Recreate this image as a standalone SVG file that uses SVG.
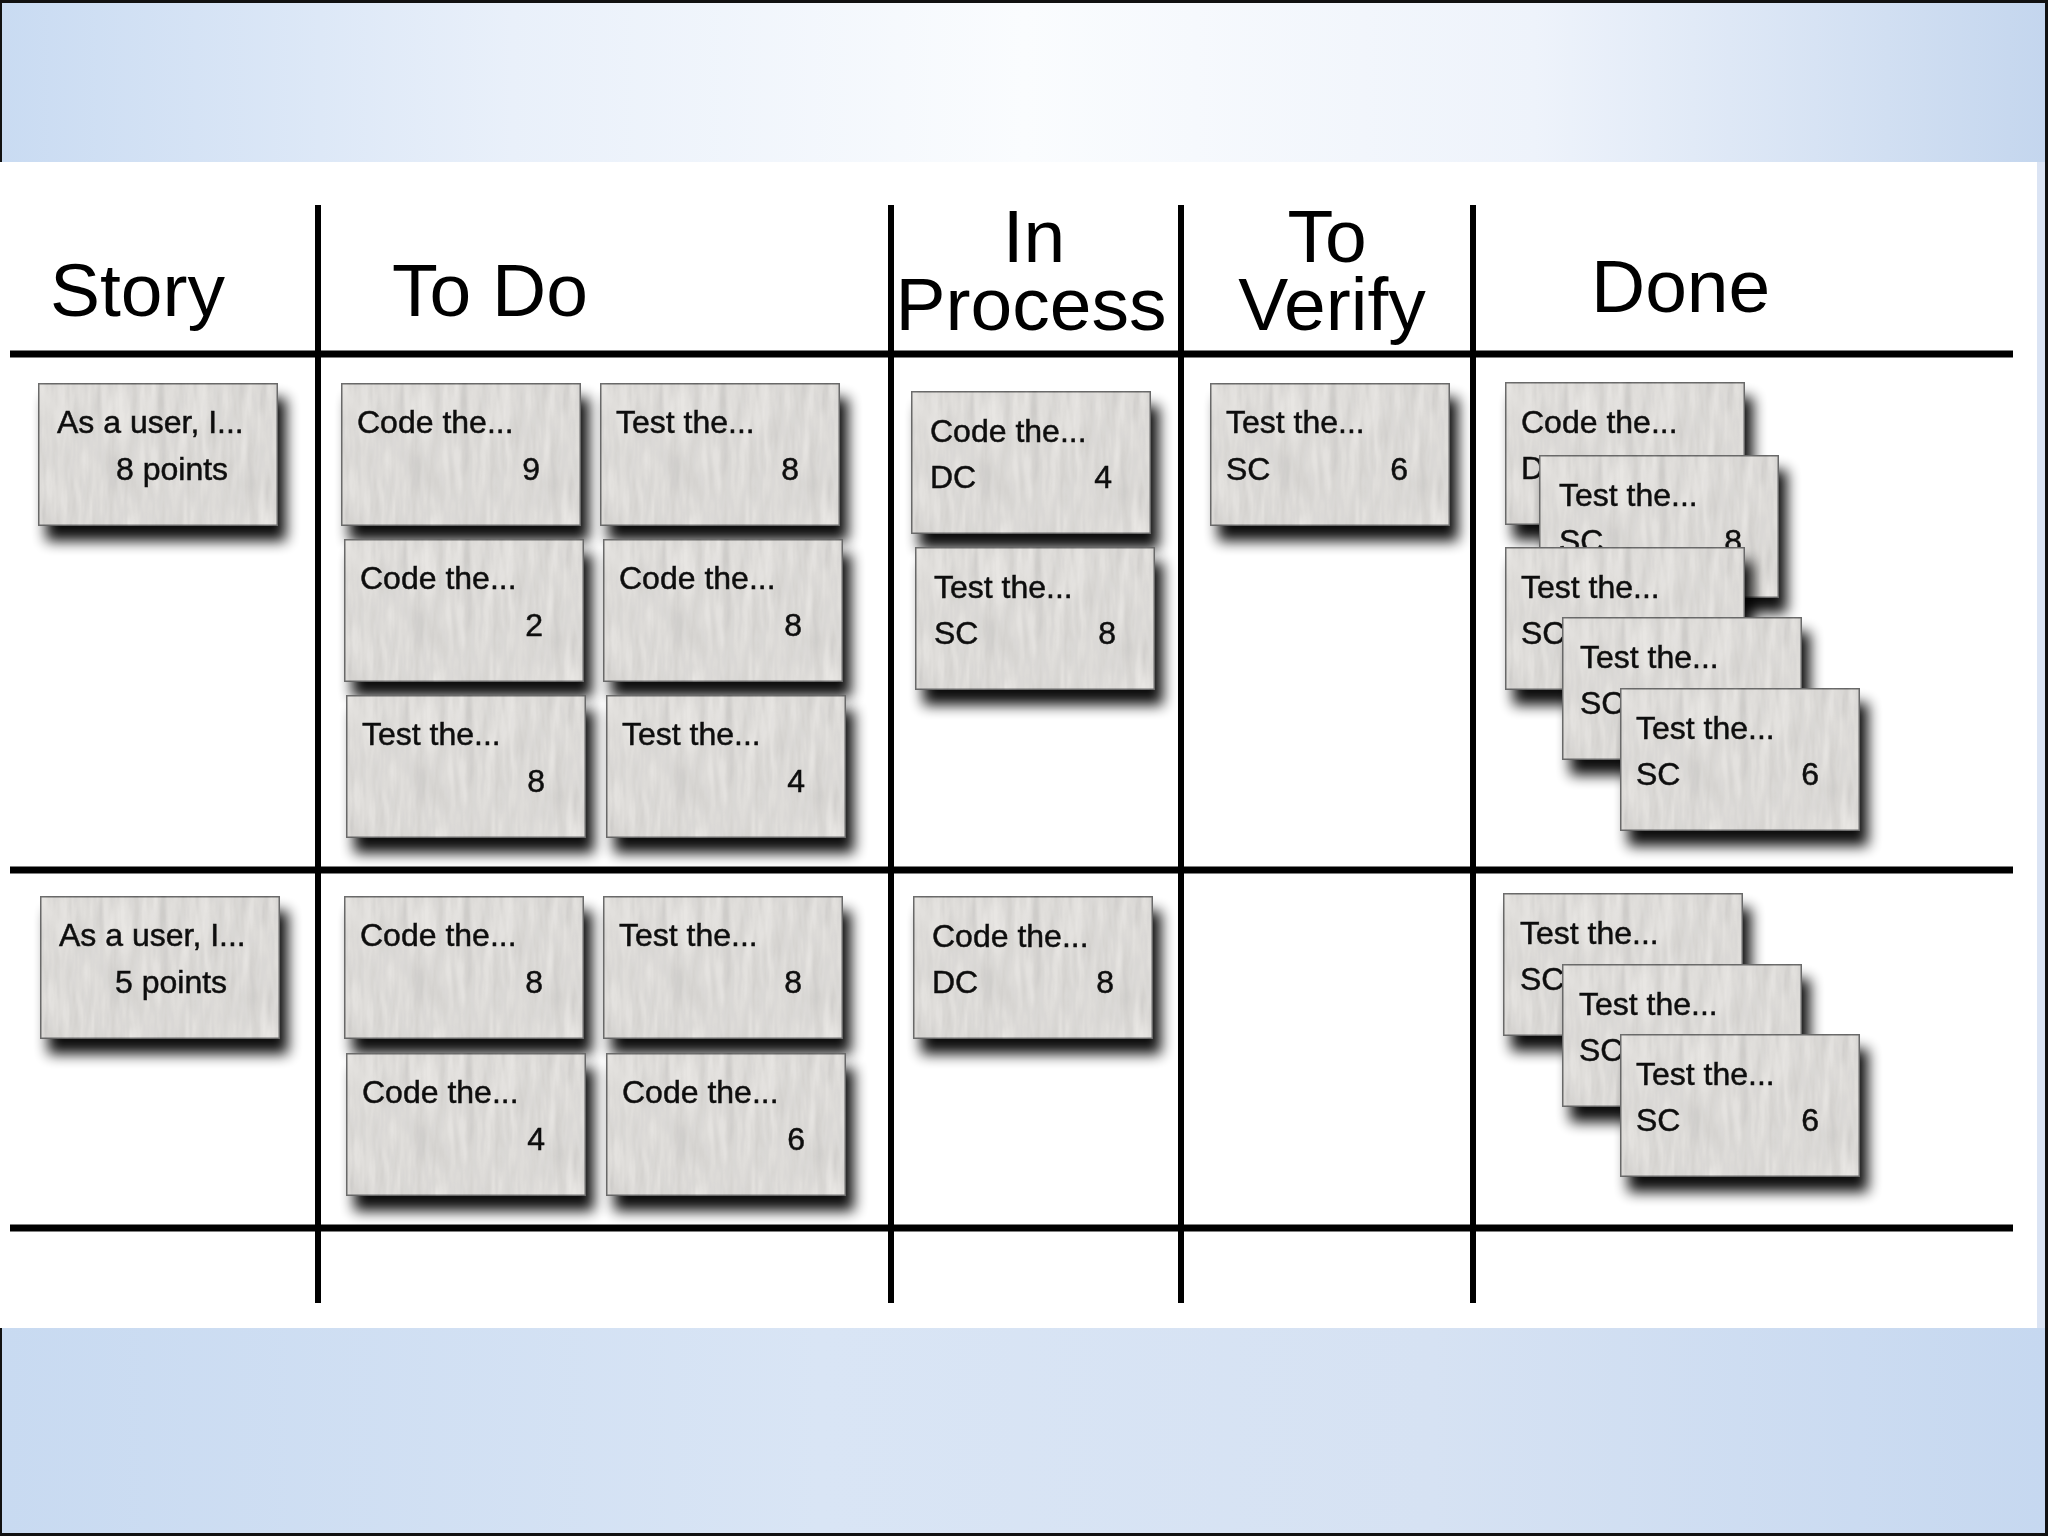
<svg xmlns="http://www.w3.org/2000/svg" width="2048" height="1536" viewBox="0 0 2048 1536">
<style>
.hd{font-family:"Liberation Sans",Arial,sans-serif;font-size:75px;fill:#000}
.ct{font-family:"Liberation Sans",Arial,sans-serif;font-size:32px;fill:#111;stroke:#111;stroke-width:0.5}
.num{text-anchor:end}
.paper{fill:#e8e6e3;stroke:#6f6f6f;stroke-width:3}
.grid line{stroke:#000}
.h{stroke-width:7}
.v{stroke-width:6}
</style>
<defs>
<linearGradient id="gTop" x1="0" y1="0" x2="1" y2="0">
<stop offset="0" stop-color="#c9dbf2"/>
<stop offset="0.25" stop-color="#e9f0fa"/>
<stop offset="0.5" stop-color="#fafcfe"/>
<stop offset="0.75" stop-color="#eef3fb"/>
<stop offset="1" stop-color="#c4d6ee"/>
</linearGradient>
<linearGradient id="gBot" x1="0" y1="0" x2="1" y2="0">
<stop offset="0" stop-color="#c8daf1"/>
<stop offset="0.4" stop-color="#d9e5f5"/>
<stop offset="0.7" stop-color="#d6e2f3"/>
<stop offset="1" stop-color="#c6d8f0"/>
</linearGradient>
<filter id="sh" x="-10%" y="-10%" width="135%" height="155%">
<feGaussianBlur in="SourceAlpha" stdDeviation="7"/>
<feOffset dx="8" dy="15"/>
<feComponentTransfer><feFuncA type="linear" slope="0.95"/></feComponentTransfer>
<feMerge><feMergeNode/><feMergeNode in="SourceGraphic"/></feMerge>
</filter>
<filter id="paper" x="0" y="0" width="100%" height="100%" color-interpolation-filters="sRGB">
<feTurbulence type="fractalNoise" baseFrequency="0.1 0.016" numOctaves="3" seed="7"/>
<feColorMatrix type="matrix" values="0.33 0.33 0.33 0 0 0.33 0.33 0.33 0 0 0.33 0.33 0.33 0 0 0 0 0 0 1"/>
<feComponentTransfer>
<feFuncR type="linear" slope="0.3" intercept="0.8"/>
<feFuncG type="linear" slope="0.3" intercept="0.8"/>
<feFuncB type="linear" slope="0.3" intercept="0.8"/>
</feComponentTransfer>
<feBlend in2="SourceGraphic" mode="multiply" result="m"/>
<feComposite in="m" in2="SourceGraphic" operator="in"/>
</filter>
</defs>

<g id="background">
<rect x="0" y="0" width="2048" height="1536" fill="#111"/>
<rect x="2" y="3" width="2043" height="159" fill="url(#gTop)"/>
<rect x="2" y="1328" width="2043" height="205" fill="url(#gBot)"/>
<rect x="2037" y="162" width="8" height="1166" fill="#dbe4f4"/>
<rect x="0" y="162" width="2037" height="1166" fill="#ffffff"/>
</g>

<g id="connectors" class="grid">
<line class="h" x1="10" y1="354" x2="2013" y2="354"/>
<line class="h" x1="10" y1="870" x2="2013" y2="870"/>
<line class="h" x1="10" y1="1228" x2="2013" y2="1228"/>
<line class="v" x1="318" y1="205" x2="318" y2="1303"/>
<line class="v" x1="891" y1="205" x2="891" y2="1303"/>
<line class="v" x1="1181" y1="205" x2="1181" y2="1303"/>
<line class="v" x1="1473" y1="205" x2="1473" y2="1303"/>
</g>

<g id="headers">
<text class="hd" x="50" y="316">Story</text>
<text class="hd" x="392" y="316">To Do</text>
<text class="hd" x="1034" y="262" text-anchor="middle">In</text>
<text class="hd" x="1031" y="330" text-anchor="middle">Process</text>
<text class="hd" x="1327" y="262" text-anchor="middle">To</text>
<text class="hd" x="1332" y="330" text-anchor="middle">Verify</text>
<text class="hd" x="1591" y="312">Done</text>
</g>

<g id="story-1" transform="translate(38,383)" filter="url(#sh)"><rect class="paper" width="240" height="143" filter="url(#paper)"/><text class="ct" x="19" y="50">As a user, I...</text><text class="ct" x="78" y="97">8 points</text></g>
<g id="story-2" transform="translate(40,896)" filter="url(#sh)"><rect class="paper" width="240" height="143" filter="url(#paper)"/><text class="ct" x="19" y="50">As a user, I...</text><text class="ct" x="75" y="97">5 points</text></g>

<g id="todo-1" transform="translate(341,383)" filter="url(#sh)"><rect class="paper" width="240" height="143" filter="url(#paper)"/><text class="ct" x="16" y="50">Code the...</text><text class="ct num" x="199" y="97">9</text></g>
<g id="todo-2" transform="translate(600,383)" filter="url(#sh)"><rect class="paper" width="240" height="143" filter="url(#paper)"/><text class="ct" x="16" y="50">Test the...</text><text class="ct num" x="199" y="97">8</text></g>
<g id="todo-3" transform="translate(344,539)" filter="url(#sh)"><rect class="paper" width="240" height="143" filter="url(#paper)"/><text class="ct" x="16" y="50">Code the...</text><text class="ct num" x="199" y="97">2</text></g>
<g id="todo-4" transform="translate(603,539)" filter="url(#sh)"><rect class="paper" width="240" height="143" filter="url(#paper)"/><text class="ct" x="16" y="50">Code the...</text><text class="ct num" x="199" y="97">8</text></g>
<g id="todo-5" transform="translate(346,695)" filter="url(#sh)"><rect class="paper" width="240" height="143" filter="url(#paper)"/><text class="ct" x="16" y="50">Test the...</text><text class="ct num" x="199" y="97">8</text></g>
<g id="todo-6" transform="translate(606,695)" filter="url(#sh)"><rect class="paper" width="240" height="143" filter="url(#paper)"/><text class="ct" x="16" y="50">Test the...</text><text class="ct num" x="199" y="97">4</text></g>
<g id="todo-7" transform="translate(344,896)" filter="url(#sh)"><rect class="paper" width="240" height="143" filter="url(#paper)"/><text class="ct" x="16" y="50">Code the...</text><text class="ct num" x="199" y="97">8</text></g>
<g id="todo-8" transform="translate(603,896)" filter="url(#sh)"><rect class="paper" width="240" height="143" filter="url(#paper)"/><text class="ct" x="16" y="50">Test the...</text><text class="ct num" x="199" y="97">8</text></g>
<g id="todo-9" transform="translate(346,1053)" filter="url(#sh)"><rect class="paper" width="240" height="143" filter="url(#paper)"/><text class="ct" x="16" y="50">Code the...</text><text class="ct num" x="199" y="97">4</text></g>
<g id="todo-10" transform="translate(606,1053)" filter="url(#sh)"><rect class="paper" width="240" height="143" filter="url(#paper)"/><text class="ct" x="16" y="50">Code the...</text><text class="ct num" x="199" y="97">6</text></g>

<g id="inprocess-1" transform="translate(911,391)" filter="url(#sh)"><rect class="paper" width="240" height="143" filter="url(#paper)"/><text class="ct" x="19" y="51">Code the...</text><text class="ct" x="19" y="97">DC</text><text class="ct num" x="201" y="97">4</text></g>
<g id="inprocess-2" transform="translate(915,547)" filter="url(#sh)"><rect class="paper" width="240" height="143" filter="url(#paper)"/><text class="ct" x="19" y="51">Test the...</text><text class="ct" x="19" y="97">SC</text><text class="ct num" x="201" y="97">8</text></g>
<g id="inprocess-3" transform="translate(913,896)" filter="url(#sh)"><rect class="paper" width="240" height="143" filter="url(#paper)"/><text class="ct" x="19" y="51">Code the...</text><text class="ct" x="19" y="97">DC</text><text class="ct num" x="201" y="97">8</text></g>

<g id="toverify-1" transform="translate(1210,383)" filter="url(#sh)"><rect class="paper" width="240" height="143" filter="url(#paper)"/><text class="ct" x="16" y="50">Test the...</text><text class="ct" x="16" y="97">SC</text><text class="ct num" x="198" y="97">6</text></g>

<g id="done-1" transform="translate(1505,382)" filter="url(#sh)"><rect class="paper" width="240" height="143" filter="url(#paper)"/><text class="ct" x="16" y="51">Code the...</text><text class="ct" x="16" y="97">DC</text></g>
<g id="done-2" transform="translate(1539,455)" filter="url(#sh)"><rect class="paper" width="240" height="143" filter="url(#paper)"/><text class="ct" x="20" y="51">Test the...</text><text class="ct" x="20" y="97">SC</text><text class="ct num" x="203" y="97">8</text></g>
<g id="done-3" transform="translate(1505,547)" filter="url(#sh)"><rect class="paper" width="240" height="143" filter="url(#paper)"/><text class="ct" x="16" y="51">Test the...</text><text class="ct" x="16" y="97">SC</text></g>
<g id="done-4" transform="translate(1562,617)" filter="url(#sh)"><rect class="paper" width="240" height="143" filter="url(#paper)"/><text class="ct" x="18" y="51">Test the...</text><text class="ct" x="18" y="97">SC</text></g>
<g id="done-5" transform="translate(1620,688)" filter="url(#sh)"><rect class="paper" width="240" height="143" filter="url(#paper)"/><text class="ct" x="16" y="51">Test the...</text><text class="ct" x="16" y="97">SC</text><text class="ct num" x="199" y="97">6</text></g>

<g id="done-6" transform="translate(1503,893)" filter="url(#sh)"><rect class="paper" width="240" height="143" filter="url(#paper)"/><text class="ct" x="17" y="51">Test the...</text><text class="ct" x="17" y="97">SC</text></g>
<g id="done-7" transform="translate(1562,964)" filter="url(#sh)"><rect class="paper" width="240" height="143" filter="url(#paper)"/><text class="ct" x="17" y="51">Test the...</text><text class="ct" x="17" y="97">SC</text></g>
<g id="done-8" transform="translate(1620,1034)" filter="url(#sh)"><rect class="paper" width="240" height="143" filter="url(#paper)"/><text class="ct" x="16" y="51">Test the...</text><text class="ct" x="16" y="97">SC</text><text class="ct num" x="199" y="97">6</text></g>
</svg>
